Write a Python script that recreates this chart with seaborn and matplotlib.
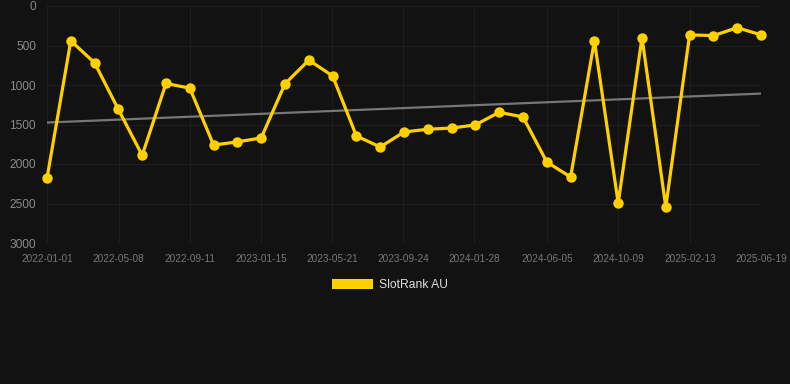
import numpy as np
import pandas as pd
import matplotlib
matplotlib.use("Agg")
import matplotlib.pyplot as plt
import matplotlib.dates as mdates
from matplotlib.patches import Patch
import seaborn as sns

# ---- data ----
start_date = "2022-01-01"
end_date = "2025-06-19"
n_points = 31
ranks = [2180, 440, 720, 1310, 1890, 980, 1040, 1760, 1720, 1670,
         985, 685, 885, 1645, 1785, 1595, 1560, 1545, 1505, 1345,
         1405, 1975, 2165, 440, 2495, 400, 2545, 365, 375, 275, 365]
tick_labels = ["2022-01-01", "2022-05-08", "2022-09-11", "2023-01-15",
               "2023-05-21", "2023-09-24", "2024-01-28", "2024-06-05",
               "2024-10-09", "2025-02-13", "2025-06-19"]
y_ticks = [0, 500, 1000, 1500, 2000, 2500, 3000]
series_name = "SlotRank AU"

dates = pd.date_range(start_date, end_date, periods=n_points)
df = pd.DataFrame({"date": dates, "rank": ranks})

# ---- style ----
sns.set_theme(style="dark")
plt.rcParams["font.family"] = ["Liberation Sans", "DejaVu Sans"]
bg = "#121212"
yellow = "#FFD000"

fig = plt.figure(figsize=(7.9, 3.84), dpi=100, facecolor=bg)
ax = fig.add_axes([47/790, 1 - 243/384, (761-47)/790, (243-6)/384])
ax.set_facecolor(bg)

# trend line (linear fit)
x_num = mdates.date2num(df["date"])
coef = np.polyfit(x_num, df["rank"], 1)
trend = np.polyval(coef, x_num[[0, -1]])
ax.plot(df["date"].iloc[[0, -1]], trend, color="#777777", lw=1.6, zorder=2)

sns.lineplot(data=df, x="date", y="rank", ax=ax, color=yellow, lw=2.3,
             marker="o", markersize=7.5, markeredgewidth=0, zorder=3,
             solid_joinstyle="miter", clip_on=False)

ax.set_ylim(3000, 0)
ax.set_xlim(dates[0], dates[-1])
ax.set_yticks(y_ticks)
ax.set_yticklabels([str(v) for v in y_ticks])
ax.set_xticks(pd.to_datetime(tick_labels))
ax.set_xticklabels(tick_labels)
ax.set_xlabel("")
ax.set_ylabel("")

ax.grid(True, color="#1e1e1e", lw=0.8)
for s in ax.spines.values():
    s.set_visible(False)
ax.tick_params(axis="y", colors="#8a8a8a", labelsize=8.6, length=0, pad=8)
ax.tick_params(axis="x", colors="#777777", labelsize=7.2, length=0, pad=8)

fig.legend(handles=[Patch(facecolor=yellow, edgecolor="none")],
           labels=[series_name], loc="center",
           bbox_to_anchor=(390/790, 1 - 285/384), frameon=False,
           fontsize=8.7, labelcolor="#dddddd", handlelength=3.4,
           handleheight=0.9, handletextpad=0.5)

fig.savefig("out.png", dpi=100, facecolor=bg)
